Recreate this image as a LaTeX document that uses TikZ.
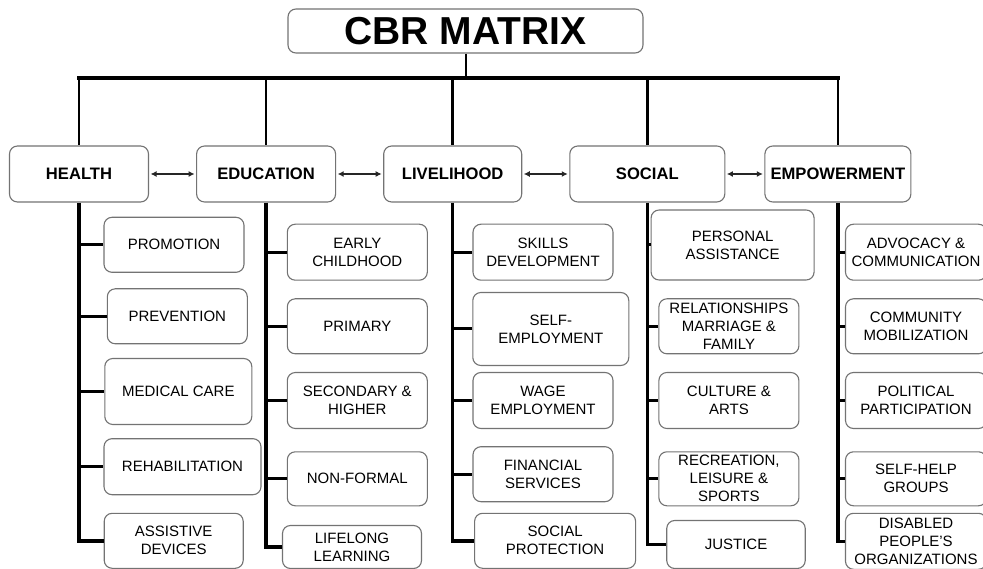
\documentclass[tikz,border=0pt]{standalone}
\usepackage{fontspec}
\setmainfont{Liberation Sans}
\usetikzlibrary{arrows.meta, positioning, calc}

\begin{document}
\begin{tikzpicture}[x=1pt, y=-1pt,
    box/.style={draw=black!55, line width=1.1pt, rounded corners=8pt, align=center, inner sep=2pt, fill=white},
    head/.style={box, minimum width=139pt, minimum height=56pt, font=\fontsize{16.6}{19}\selectfont\bfseries},
    item/.style={box, minimum width=140pt, minimum height=55pt, font=\fontsize{15}{18}\selectfont},
    trunk/.style={line width=2.5pt},
    spine/.style={line width=3.5pt},
    twig/.style={line width=3pt},
    link/.style={{Latex[length=6pt,width=6pt]}-{Latex[length=6pt,width=6pt]}, line width=1.4pt, black!85, shorten <=1.5pt, shorten >=1.5pt}]
        \useasboundingbox (0,0) rectangle (983,569);

        % Define nodes
        \node[box, minimum width=355pt, minimum height=44pt, font=\fontsize{39}{40}\selectfont\bfseries] (title) at (465.5,31) {CBR MATRIX};

        \node[head] (health) at (79,174) {HEALTH};
        \node[head, right=47pt of health] (education) {EDUCATION};
        \node[head, minimum width=138pt, right=47pt of education] (livelihood) {LIVELIHOOD};
        \node[head, minimum width=155pt, right=47pt of livelihood] (social) {SOCIAL};
        \node[head, minimum width=146pt, right=39pt of social] (empower) {EMPOWERMENT};

        % Health column
        \node[item] (promotion) at (174,244.8) {PROMOTION};
        \node[item] (prevention) at (177.3,316.3) {PREVENTION};
        \node[item, minimum width=147pt, minimum height=66pt] (medical) at (178.3,391.5) {MEDICAL CARE};
        \node[item, minimum width=157pt, minimum height=56pt] (rehab) at (182.5,466.7) {REHABILITATION};
        \node[item, minimum width=139pt] (assistive) at (173.7,540.8) {ASSISTIVE\\DEVICES};

        % Education column
        \node[item, minimum height=56pt] (early) at (357.3,252.2) {EARLY\\CHILDHOOD};
        \node[item] (primary) at (357.3,326.3) {PRIMARY};
        \node[item, minimum height=56pt] (secondary) at (357.3,400.5) {SECONDARY \&\\HIGHER};
        \node[item, minimum height=54pt] (nonformal) at (357.3,478.8) {NON-FORMAL};
        \node[item, minimum width=139pt, minimum height=43pt] (lifelong) at (352,547) {LIFELONG\\LEARNING};

        % Livelihood column
        \node[item, minimum height=56pt] (skills) at (543,252.2) {SKILLS\\DEVELOPMENT};
        \node[item, minimum width=156pt, minimum height=73pt] (selfemp) at (550.8,329) {SELF-\\EMPLOYMENT};
        \node[item, minimum height=56pt] (wage) at (543,400.5) {WAGE\\EMPLOYMENT};
        \node[item] (financial) at (543,474.2) {FINANCIAL\\SERVICES};
        \node[item, minimum width=161pt] (protection) at (555.1,540.8) {SOCIAL\\PROTECTION};

        % Social column
        \node[item, minimum width=163pt, minimum height=70pt] (personal) at (732.6,245) {PERSONAL\\ASSISTANCE};
        \node[item] (relations) at (728.9,326.3) {RELATIONSHIPS\\MARRIAGE \&\\FAMILY};
        \node[item, minimum height=56pt] (culture) at (728.9,400.5) {CULTURE \&\\ARTS};
        \node[item, minimum height=54pt] (recreation) at (728.9,478.8) {RECREATION,\\LEISURE \&\\SPORTS};
        \node[item, minimum width=138.5pt, minimum height=48pt] (justice) at (736,544.5) {JUSTICE};

        % Empowerment column
        \node[item, minimum width=141pt, minimum height=56pt] (advocacy) at (916,252.2) {ADVOCACY \&\\COMMUNICATION};
        \node[item, minimum width=141pt] (community) at (916,326.3) {COMMUNITY\\MOBILIZATION};
        \node[item, minimum width=141pt, minimum height=56pt] (political) at (916,400.5) {POLITICAL\\PARTICIPATION};
        \node[item, minimum width=141pt, minimum height=54pt] (selfhelp) at (916,478.8) {SELF-HELP\\GROUPS};
        \node[item, minimum width=141pt, minimum height=56pt] (dpo) at (916,541.3) {DISABLED\\PEOPLE'S\\ORGANIZATIONS};

        % Tree above the headers
        \coordinate (bar) at (447,78);
        \draw[line width=2pt] (title.south) -- (title.south |- bar);
        \draw[line width=3.5pt] ([xshift=-2pt]health.north |- bar) -- ([xshift=2pt]empower.north |- bar);
        \foreach \n in {health,education,livelihood,social,empower}
            \draw[trunk] (\n.north |- bar) -- (\n.north);

        % Arrows between the headers
        \draw[link] (health) -- (education);
        \draw[link] (education) -- (livelihood);
        \draw[link] (livelihood) -- (social);
        \draw[link] (social) -- (empower);

        % Spines and branches down each column
        \draw[spine] (health.south) |- (assistive.west);
        \foreach \c in {promotion,prevention,medical,rehab}
            \draw[twig] (health.south |- \c.west) -- (\c.west);
        \draw[spine] (education.south) |- (lifelong.west);
        \foreach \c in {early,primary,secondary,nonformal}
            \draw[twig] (education.south |- \c.west) -- (\c.west);
        \draw[spine] (livelihood.south) |- (protection.west);
        \foreach \c in {skills,selfemp,wage,financial}
            \draw[twig] (livelihood.south |- \c.west) -- (\c.west);
        \draw[spine] (social.south) |- (justice.west);
        \foreach \c in {personal,relations,culture,recreation}
            \draw[twig] (social.south |- \c.west) -- (\c.west);
        \draw[spine] (empower.south) |- (dpo.west);
        \foreach \c in {advocacy,community,political,selfhelp}
            \draw[twig] (empower.south |- \c.west) -- (\c.west);

    \end{tikzpicture}
\end{document}
